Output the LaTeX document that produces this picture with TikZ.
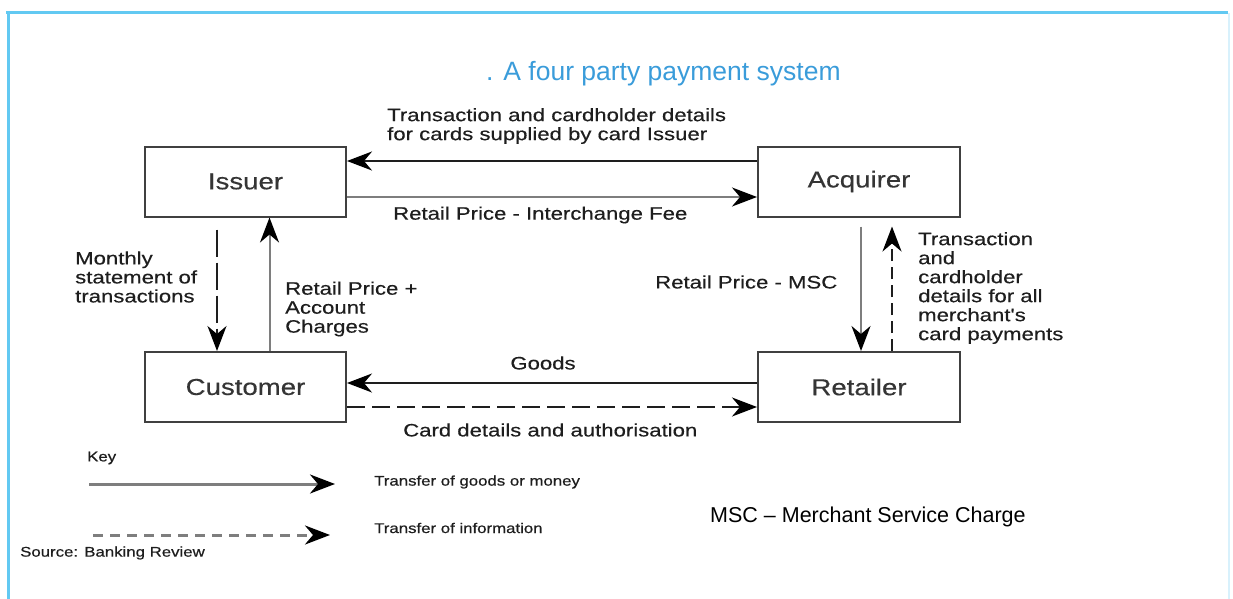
\documentclass[tikz,border=0pt]{standalone}
\usepackage{fontspec}
\setmainfont{Liberation Sans}
\newfontfamily\labfont[FakeStretch=1.23,FakeBold=0.4]{Liberation Sans}
\newfontfamily\boxfont[FakeStretch=1.2,FakeBold=0.4]{Liberation Sans}
\newfontfamily\keyfont[FakeStretch=1.2,FakeBold=0.6]{Liberation Sans}
\usetikzlibrary{arrows.meta}
\definecolor{frameblue}{HTML}{62C9F2}
\definecolor{titleblue}{HTML}{3A9CDA}
\definecolor{inkgray}{HTML}{1E1E1E}
\definecolor{moneygray}{HTML}{7E7E7E}
\tikzset{
  party/.style={draw=inkgray!85, line width=2pt, minimum height=70pt, inner sep=0pt,
    font=\boxfont\fontsize{23}{26}\selectfont, text=inkgray!90},
  lbl/.style={inner sep=0pt, align=left, text=inkgray,
    font=\labfont\fontsize{18}{19}\selectfont},
  keylbl/.style={inner sep=0pt, align=left, text=inkgray,
    font=\keyfont\fontsize{14}{16}\selectfont},
  tip/.style={-{Stealth[length=25pt,width=19pt,inset=8pt,color=black]}},
  moneyflow/.style={tip, draw=moneygray, line width=2pt},
  goodsflow/.style={tip, draw=inkgray, line width=1.8pt},
  infoflow/.style={tip, draw=inkgray, line width=2pt},
}
\begin{document}
\begin{tikzpicture}[x=1pt,y=-1pt]
\useasboundingbox (0,0) rectangle (1233,599);
% frame
\draw[frameblue, line width=3pt] (6,13) -- (1228,13);
\draw[frameblue, line width=3pt] (8,13) -- (8,599);
\draw[frameblue!25, line width=1.5pt] (1229,13) -- (1229,599);
% title
\node[anchor=west, inner sep=0pt, text=titleblue, font=\fontsize{26.5}{28}\selectfont] (title) at (486,74) {. A four party payment system};
% boxes
\node[party, minimum width=201pt] (issuer) at (245.5,181.5) {Issuer};
\node[party, minimum width=201pt] (customer) at (245.5,387) {Customer};
\node[party, minimum width=202pt] (acquirer) at (859,181.5) {Acquirer};
\node[party, minimum width=202pt] (retailer) at (859,387) {Retailer};
% top arrows
\draw[infoflow] ([yshift=20.5pt]acquirer.west) -- ([yshift=20.5pt]issuer.east);
\draw[moneyflow] ([yshift=-15.5pt]issuer.east) -- ([yshift=-15.5pt]acquirer.west);
% bottom arrows
\draw[goodsflow] ([yshift=4pt]retailer.west) -- ([yshift=4pt]customer.east);
\draw[infoflow, dash pattern=on 18pt off 7pt] ([yshift=-20pt]customer.east) -- ([yshift=-20pt]retailer.west);
% left verticals
\draw[infoflow, dash pattern=on 27pt off 6pt, shorten <=12pt] ([xshift=-28.5pt]issuer.south) -- ([xshift=-28.5pt]customer.north);
\draw[moneyflow] ([xshift=24pt]customer.north) -- ([xshift=24pt]issuer.south);
% right verticals
\draw[moneyflow, shorten <=9pt] ([xshift=2pt]acquirer.south) -- ([xshift=2pt]retailer.north);
\draw[infoflow, dash pattern=on 12pt off 6pt, shorten >=9pt] ([xshift=33pt]retailer.north) -- ([xshift=33pt]acquirer.south);
% labels
\node[lbl, anchor=west] (ltop) at (387,126) {Transaction and cardholder details\\for cards supplied by card Issuer};
\node[lbl, anchor=west] (linter) at (393,215) {Retail Price - Interchange Fee};
\node[lbl, anchor=west] (lmonth) at (75,277) {Monthly\\statement of\\transactions};
\node[lbl, anchor=west] (lretail) at (285,309) {Retail Price +\\Account\\Charges};
\node[lbl, anchor=west] (lmsc) at (655,282) {Retail Price - MSC};
\node[lbl, anchor=west] (lright) at (918,288) {Transaction\\and\\cardholder\\details for all\\merchant's\\card payments};
\node[lbl, anchor=center] (lgoods) at (543,363) {Goods};
\node[lbl, anchor=west] (lcard) at (403,430) {Card details and authorisation};
% key
\node[keylbl, anchor=west] (key) at (87,458) {Key};
\coordinate (k1a) at (89,484);
\coordinate (k1b) at (335,484);
\draw[tip, draw=moneygray, line width=3pt] (k1a) -- (k1b);
\node[keylbl, anchor=west] (kmoney) at (374,482) {Transfer of goods or money};
\coordinate (k2a) at (93,535);
\coordinate (k2b) at (330,535);
\draw[tip, draw=moneygray, line width=3pt, dash pattern=on 10pt off 7pt] (k2a) -- (k2b);
\node[keylbl, anchor=west] (kinfo) at (374,528) {Transfer of information};
\node[keylbl, anchor=west] (source) at (20,553) {Source: Banking Review};
\node[anchor=west, inner sep=0pt, text=black, font=\fontsize{21.5}{24}\selectfont] (mscnote) at (710,517) {MSC – Merchant Service Charge};
\end{tikzpicture}
\end{document}
